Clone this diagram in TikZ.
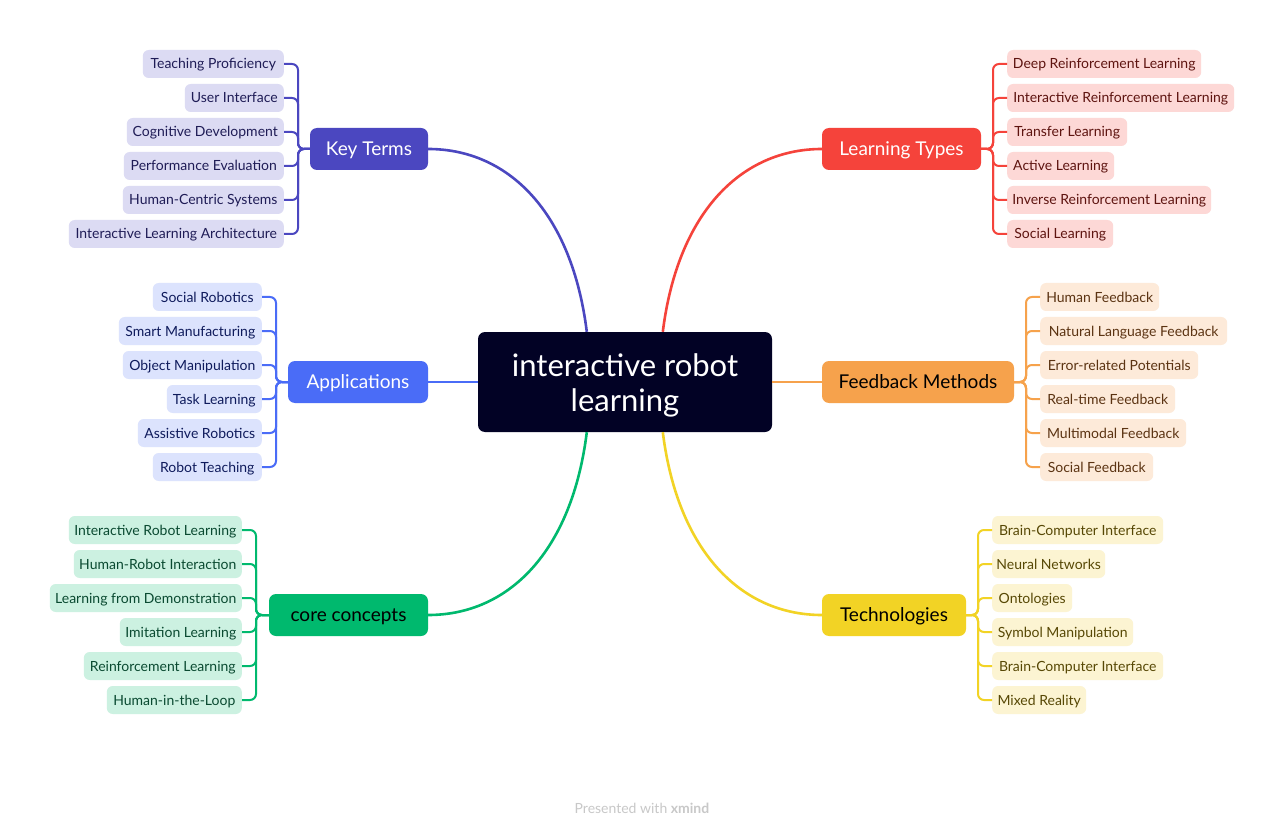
\documentclass[tikz,border=0pt]{standalone}
\usepackage{fontspec}
\setmainfont{Lato}
\usetikzlibrary{calc}
\definecolor{ctr}{HTML}{020225}
\definecolor{ktc}{HTML}{4B47C0}\definecolor{ktf}{HTML}{DCDBF3}\definecolor{ktt}{HTML}{1F1C56}
\definecolor{ltc}{HTML}{F5433B}\definecolor{ltf}{HTML}{FDD8D6}\definecolor{ltt}{HTML}{5E1410}
\definecolor{apc}{HTML}{4A6CF7}\definecolor{apf}{HTML}{DCE3FD}\definecolor{apt}{HTML}{0F1B5C}
\definecolor{fbc}{HTML}{F6A24C}\definecolor{fbf}{HTML}{FDEAD9}\definecolor{fbt}{HTML}{5B3312}
\definecolor{ccc}{HTML}{00B96E}\definecolor{ccf}{HTML}{CCF1E1}\definecolor{cct}{HTML}{0A4A31}
\definecolor{tcc}{HTML}{F2D325}\definecolor{tcf}{HTML}{FCF4D2}\definecolor{tct}{HTML}{574805}
\definecolor{footc}{HTML}{C8C8C8}
\begin{document}
\begin{tikzpicture}[x=1pt,y=-1pt,
  leaf/.style={rounded corners=6pt, minimum height=28pt, inner sep=0pt, text height=11pt, text depth=1pt, font=\fontsize{14}{16}\selectfont},
  mainbox/.style={rounded corners=7pt, minimum height=42pt, inner sep=0pt, text height=14.7pt, text depth=1pt, font=\fontsize{19}{22}\selectfont},
  kleaf/.style={leaf, fill=ktf, text=ktt, anchor=east},
  lleaf/.style={leaf, fill=ltf, text=ltt, anchor=west},
  aleaf/.style={leaf, fill=apf, text=apt, anchor=east},
  fleaf/.style={leaf, fill=fbf, text=fbt, anchor=west},
  cleaf/.style={leaf, fill=ccf, text=cct, anchor=east},
  tleaf/.style={leaf, fill=tcf, text=tct, anchor=west},
  link/.style={line width=2pt, rounded corners=6pt},
  trunk/.style={line width=2.6pt}
]
\useasboundingbox[fill=white] (0,0) rectangle (1285,834);

% center
\node[fill=ctr, rounded corners=7pt, minimum width=294pt, minimum height=100pt, inner sep=0pt] (c) at (625,382) {};
\node[text=white, inner sep=0pt, align=center, font=\fontsize{31}{35}\selectfont] (ct) at (625,385) {interactive robot\\learning};

% main nodes
\node[mainbox, fill=ktc, text=white, minimum width=118pt] (kt) at (369,149) {Key Terms};
\node[mainbox, fill=ltc, text=white, minimum width=159pt] (lt) at (901.5,149) {Learning Types};
\node[mainbox, fill=apc, text=white, minimum width=140pt] (ap) at (358,382) {Applications};
\node[mainbox, fill=fbc, text=black, minimum width=192pt] (fb) at (918,382) {Feedback Methods};
\node[mainbox, fill=ccc, text=black, minimum width=159pt] (cc) at (348.5,615) {core concepts};
\node[mainbox, fill=tcc, text=black, minimum width=144pt] (tc) at (894,615) {Technologies};

% trunks
\draw[trunk, ktc] ($(c.north west)+(109,0)$) .. controls +(-15,-120) and +(80,0) .. (kt.east);
\draw[trunk, ltc] ($(c.north west)+(185,0)$) .. controls +(15,-120) and +(-80,0) .. (lt.west);
\draw[trunk, apc] (c.west) -- (ap.east);
\draw[trunk, fbc] (c.east) -- (fb.west);
\draw[trunk, ccc] ($(c.south west)+(109,0)$) .. controls +(-15,120) and +(80,0) .. (cc.east);
\draw[trunk, tcc] ($(c.south west)+(185,0)$) .. controls +(15,120) and +(-80,0) .. (tc.west);

% Key Terms leaves
\node[kleaf, minimum width=141pt] (k1) at (284,64) {Teaching Proficiency};
\node[kleaf, minimum width=99pt] (k2) at (284,98) {User Interface};
\node[kleaf, minimum width=157pt] (k3) at (284,132) {Cognitive Development};
\node[kleaf, minimum width=160pt] (k4) at (284,166) {Performance Evaluation};
\node[kleaf, minimum width=161pt] (k5) at (284,200) {Human-Centric Systems};
\node[kleaf, minimum width=215pt] (k6) at (284,234) {Interactive Learning Architecture};
\coordinate (ks) at (298,149);
\foreach \n in {k1,k2,k3,k4,k5,k6} \draw[link, ktc] (kt.west) -- (ks) |- (\n.east);

% Learning Types leaves
\node[lleaf, minimum width=194pt] (l1) at (1007,64) {Deep Reinforcement Learning};
\node[lleaf, minimum width=227pt] (l2) at (1007,98) {Interactive Reinforcement Learning};
\node[lleaf, minimum width=120pt] (l3) at (1007,132) {Transfer Learning};
\node[lleaf, minimum width=107pt] (l4) at (1007,166) {Active Learning};
\node[lleaf, minimum width=204pt] (l5) at (1007,200) {Inverse Reinforcement Learning};
\node[lleaf, minimum width=106pt] (l6) at (1007,234) {Social Learning};
\coordinate (ls) at (993,149);
\foreach \n in {l1,l2,l3,l4,l5,l6} \draw[link, ltc] (lt.east) -- (ls) |- (\n.west);

% Applications leaves
\node[aleaf, minimum width=109pt] (a1) at (262,297) {Social Robotics};
\node[aleaf, minimum width=143pt] (a2) at (262,331) {Smart Manufacturing};
\node[aleaf, minimum width=139pt] (a3) at (262,365) {Object Manipulation};
\node[aleaf, minimum width=95pt] (a4) at (262,399) {Task Learning};
\node[aleaf, minimum width=124pt] (a5) at (262,433) {Assistive Robotics};
\node[aleaf, minimum width=109pt] (a6) at (262,467) {Robot Teaching};
\coordinate (as) at (276,382);
\foreach \n in {a1,a2,a3,a4,a5,a6} \draw[link, apc] (ap.west) -- (as) |- (\n.east);

% Feedback leaves
\node[fleaf, minimum width=119pt] (f1) at (1040,297) {Human Feedback};
\node[fleaf, minimum width=187pt] (f2) at (1040,331) {Natural Language Feedback};
\node[fleaf, minimum width=158pt] (f3) at (1040,365) {Error-related Potentials};
\node[fleaf, minimum width=135pt] (f4) at (1040,399) {Real-time Feedback};
\node[fleaf, minimum width=146pt] (f5) at (1040,433) {Multimodal Feedback};
\node[fleaf, minimum width=113pt] (f6) at (1040,467) {Social Feedback};
\coordinate (fs) at (1026,382);
\foreach \n in {f1,f2,f3,f4,f5,f6} \draw[link, fbc] (fb.east) -- (fs) |- (\n.west);

% core concepts leaves
\node[cleaf, minimum width=173pt] (c1) at (242,530) {Interactive Robot Learning};
\node[cleaf, minimum width=168pt] (c2) at (242,564) {Human-Robot Interaction};
\node[cleaf, minimum width=192pt] (c3) at (242,598) {Learning from Demonstration};
\node[cleaf, minimum width=122pt] (c4) at (242,632) {Imitation Learning};
\node[cleaf, minimum width=158pt] (c5) at (242,666) {Reinforcement Learning};
\node[cleaf, minimum width=135pt] (c6) at (242,700) {Human-in-the-Loop};
\coordinate (cs) at (256,615);
\foreach \n in {c1,c2,c3,c4,c5,c6} \draw[link, ccc] (cc.west) -- (cs) |- (\n.east);

% Technologies leaves
\node[tleaf, minimum width=171pt] (t1) at (992,530) {Brain-Computer Interface};
\node[tleaf, minimum width=113pt] (t2) at (992,564) {Neural Networks};
\node[tleaf, minimum width=80pt] (t3) at (992,598) {Ontologies};
\node[tleaf, minimum width=141pt] (t4) at (992,632) {Symbol Manipulation};
\node[tleaf, minimum width=171pt] (t5) at (992,666) {Brain-Computer Interface};
\node[tleaf, minimum width=94pt] (t6) at (992,700) {Mixed Reality};
\coordinate (ts) at (978,615);
\foreach \n in {t1,t2,t3,t4,t5,t6} \draw[link, tcc] (tc.east) -- (ts) |- (\n.west);

% footer
\node[font=\fontsize{14}{16}\selectfont, text=footc] (foot) at (642,808) {Presented with \textbf{xmind}};
\end{tikzpicture}
\end{document}
